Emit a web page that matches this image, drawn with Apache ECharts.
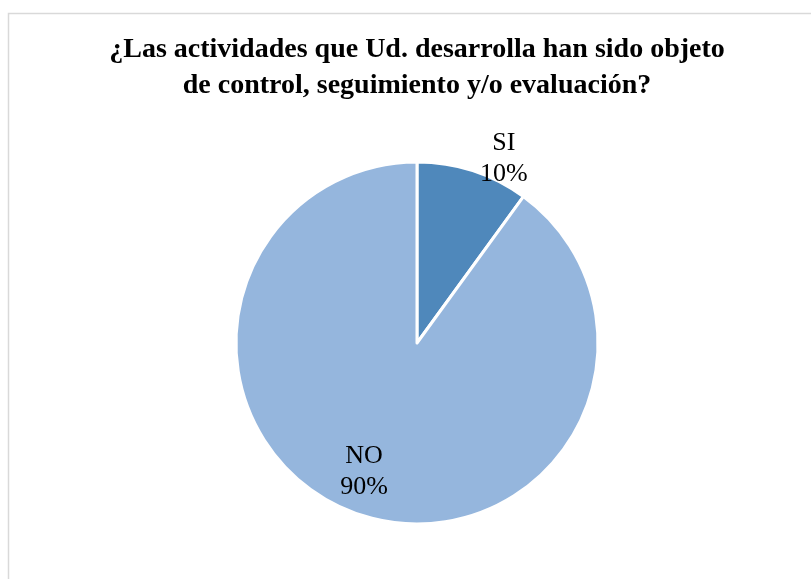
<!DOCTYPE html>
<html>
<head>
<meta charset="utf-8">
<script src="https://cdn.jsdelivr.net/npm/echarts@6/dist/echarts.min.js"></script>
<style>
  html, body { margin: 0; padding: 0; background: #fff; }
  #chart { width: 811px; height: 579px; }
</style>
</head>
<body>
<div id="chart"></div>
<script>
const titleText = '¿Las actividades que Ud. desarrolla han sido objeto\nde control, seguimiento y/o evaluación?'
const categories = ['SI', 'NO']
const values = [10, 90]
const colors = ['#4f88bb', '#95b6dd']
// label nudges from the default inside spot
const labelShift = [[58, -95], [-24, 40]]

const chart = echarts.init(document.getElementById('chart'))

chart.setOption({
  backgroundColor: '#fff',
  animation: false,
  graphic: [{
    type: 'rect',
    shape: { x: 8.5, y: 13.5, width: 900, height: 700 },
    style: { fill: 'none', stroke: '#d9d9d9', lineWidth: 1.5 },
    silent: true,
  }],
  title: {
    text: titleText,
    left: 412,
    top: 27,
    textAlign: 'center',
    textStyle: {
      fontFamily: 'Liberation Serif',
      fontWeight: 'bold',
      fontSize: 28,
      lineHeight: 36,
      color: '#000',
    },
  },
  series: [{
    type: 'pie',
    center: [417, 343],
    radius: [0, 181],
    startAngle: 90,
    clockwise: true,
    itemStyle: { borderColor: '#fff', borderWidth: 3 },
    label: {
      show: true,
      position: 'inside',
      formatter: (p) => `${p.name}\n${p.percent.toFixed(0)}%`,
      fontFamily: 'Liberation Serif',
      fontSize: 26,
      lineHeight: 31,
      color: '#000',
    },
    labelLayout: (p) => ({ dx: labelShift[p.dataIndex][0], dy: labelShift[p.dataIndex][1] }),
    data: categories.map((c, i) => ({ name: c, value: values[i], itemStyle: { color: colors[i] } })),
  }],
})
</script>
</body>
</html>
